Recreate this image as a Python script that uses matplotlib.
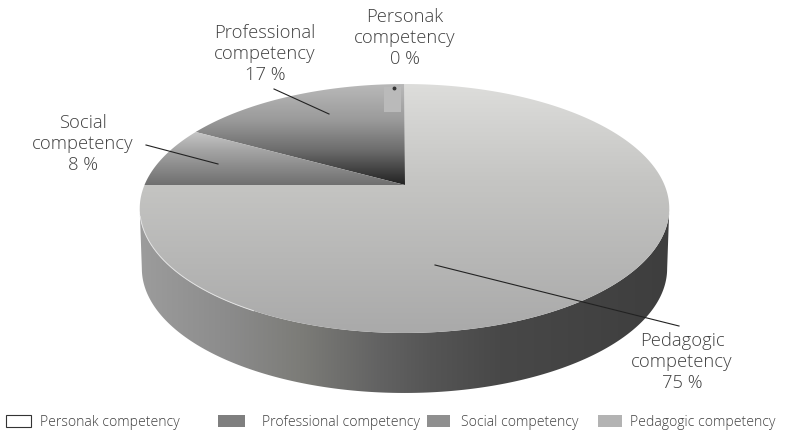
import numpy as np
import matplotlib
matplotlib.use("Agg")
import matplotlib.pyplot as plt
from matplotlib.patches import Polygon, Rectangle
from matplotlib.colors import to_rgb

categories = ["Personak competency", "Professional competency",
              "Social competency", "Pedagogic competency"]
percentages = [0, 17, 8, 75]
legend_colors = ["white", "#7f7f7f", "#8f8f8f", "#b3b3b3"]

plt.rcParams["font.family"] = ["Open Sans", "DejaVu Sans"]
TEXT = "#404040"

fig = plt.figure(figsize=(8.06, 4.32), dpi=100)
ax = fig.add_axes([0, 0, 1, 1])


def project(frac):
    """Map a pie fraction (0 at the top, counter-clockwise) onto the tilted disc."""
    t = 2 * np.pi * np.asarray(frac, dtype=float)
    u, v = -np.sin(t), np.cos(t)
    d = 1 + 0.1888 * v
    return 404.5 + 260 * u / d, (185 - 85.1 * v) / d


def gradient(poly, pos, colors, axis, zorder):
    """Fill a polygon with a linear gray ramp along x or y."""
    rgb = np.array([to_rgb(c) for c in colors])
    grid = np.arange(0, 806 if axis == "x" else 432)
    ramp = np.stack([np.interp(grid, pos, rgb[:, i]) for i in range(3)], axis=-1)
    img = ramp[np.newaxis, :, :] if axis == "x" else ramp[:, np.newaxis, :]
    im = ax.imshow(img, extent=(0, 806, 432, 0), aspect="auto", zorder=zorder,
                   interpolation="bilinear")
    patch = Polygon(poly, closed=True, transform=ax.transData, fc="none", ec="none")
    ax.add_patch(patch)
    im.set_clip_path(patch)


def wedge(start, end):
    f = np.linspace(start, end, max(2, int(abs(end - start) * 720)))
    x, y = project(f)
    return np.column_stack([np.r_[405, x], np.r_[185, y]])


# side wall: front half of the rim and the same arc dropped by the disc thickness
rim_f = np.linspace(0, 1, 1441)
rim_x, rim_y = project(rim_f)
i_left, i_right = int(np.argmin(rim_x)), int(np.argmax(rim_x))
arc_x, arc_y = rim_x[i_left:i_right + 1], rim_y[i_left:i_right + 1]
THICK = 60
wall = np.column_stack([
    np.r_[arc_x, 404 + (arc_x[::-1] - 404) * 0.992],
    np.r_[arc_y, arc_y[::-1] + THICK],
])
gradient(wall, [140, 230, 300, 380, 430, 500, 668],
         ["#9c9c9c", "#8b8b8b", "#7c7c78", "#626262", "#555555", "#484848", "#3e3e3e"],
         "x", 1)

# top face, one wedge per category
cum = np.cumsum([0] + percentages) / 100
face_styles = {
    "Professional competency": ([85, 120, 150, 185], ["#b8b8b8", "#9a9a9a", "#6c6c6c", "#202020"]),
    "Social competency": ([128, 150, 185], ["#cccccc", "#a4a4a4", "#6e6e6e"]),
    "Pedagogic competency": ([84, 180, 335], ["#dddddb", "#c5c5c3", "#a9a9a9"]),
}
for name, start, end in zip(categories, cum[:-1], cum[1:]):
    if name in face_styles:
        pos, cols = face_styles[name]
        gradient(wedge(start, end), pos, cols, "y", 2)

# light rim highlight on the left front edge
hl = (rim_f > 0.29) & (rim_f < 0.42)
ax.plot(rim_x[hl], rim_y[hl], color="#e2e2e2", lw=0.7, zorder=3)

# zero-percent slice: a sliver at the top of the disc
top_x, top_y = project(0.0)
ax.add_patch(Rectangle((top_x - 21, top_y + 3), 17, 25, fc="#bababa", ec="none", zorder=3))
ax.plot([top_x - 11], [top_y + 4], "o", ms=1.8, color="#333333", zorder=4)

# leader lines
leaders = [((274, 89), (329, 114)), ((146, 145), (218, 164)), ((435, 265), (679, 326))]
for (x0, y0), (x1, y1) in leaders:
    ax.plot([x0, x1], [y0, y1], color="#222222", lw=0.8, zorder=5)

# slice labels
label_pos = {
    "Personak competency": (405, 38),
    "Professional competency": (265, 54),
    "Social competency": (83, 144),
    "Pedagogic competency": (682, 362),
}
for name, pct in zip(categories, percentages):
    first, second = name.split()
    x, y = label_pos[name]
    ax.text(x, y, f"{first}\n{second}\n{pct} %", ha="center", va="center",
            fontsize=13.2, color=TEXT, linespacing=1.2, fontweight="light", zorder=6)

# legend row
swatch_x = [(6, 25), (218, 27), (427, 23), (598, 24)]
text_x = [40, 262, 461, 630]
for name, col, (sx, sw), tx in zip(categories, legend_colors, swatch_x, text_x):
    ax.add_patch(Rectangle((sx, 415), sw, 12, fc=col,
                           ec="#333333" if col == "white" else "none", lw=0.8))
    ax.text(tx, 422, name, ha="left", va="center", fontsize=10.1, color=TEXT,
            fontweight="light")

ax.set_xlim(0, 806)
ax.set_ylim(432, 0)
ax.axis("off")
fig.savefig("out.png", dpi=100, facecolor="white")
